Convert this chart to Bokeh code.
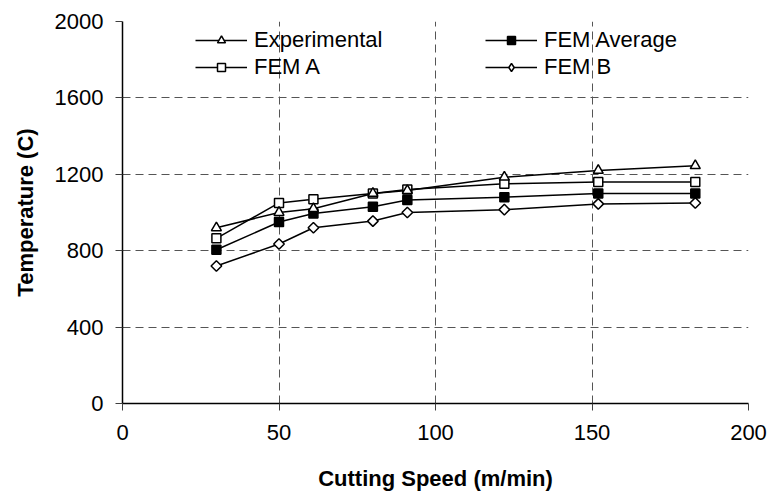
import math
from bokeh.plotting import figure
from bokeh.models import Range1d, FixedTicker, Legend, LegendItem
from bokeh.embed import file_html
from bokeh.resources import INLINE

# ---- data ----
speed = [30, 50, 61, 80, 91, 122, 152, 183]
experimental = [920, 1000, 1020, 1100, 1115, 1185, 1220, 1245]
fem_average = [805, 950, 995, 1030, 1065, 1080, 1100, 1100]
fem_a = [865, 1050, 1070, 1100, 1120, 1150, 1160, 1160]
fem_b = [720, 835, 920, 955, 1000, 1015, 1045, 1050]

x_ticks = [0, 50, 100, 150, 200]
y_ticks = [0, 400, 800, 1200, 1600, 2000]
x_title = "Cutting Speed (m/min)"
y_title = "Temperature (C)"

FONT = "Liberation Sans"

p = figure(width=771, height=494, output_backend="svg", toolbar_location=None,
           x_range=Range1d(0, 200), y_range=Range1d(0, 2000),
           min_border_left=122, min_border_right=23, min_border_top=21,
           min_border_bottom=91)
p.outline_line_color = None
p.background_fill_color = "white"
p.border_fill_color = "white"

for ax, ticks in ((p.xaxis[0], x_ticks), (p.yaxis[0], y_ticks)):
    ax.ticker = FixedTicker(ticks=ticks)
    ax.minor_tick_line_color = None
    ax.major_tick_out = 7
    ax.major_tick_in = 0
    ax.major_tick_line_color = "#404040"
    ax.axis_line_color = "black"
    ax.axis_line_width = 1.5
    ax.major_label_text_font = FONT
    ax.major_label_text_font_size = "22px"
    ax.major_label_text_color = "black"
    ax.axis_label_text_font = FONT
    ax.axis_label_text_font_size = "22px"
    ax.axis_label_text_font_style = "bold"
    ax.axis_label_text_color = "black"

p.xaxis.axis_label = x_title
p.yaxis.axis_label = y_title
p.xaxis.major_label_standoff = 14
p.yaxis.major_label_standoff = 12
p.xaxis.axis_label_standoff = 23
p.yaxis.axis_label_standoff = 14

for g in (p.xgrid[0], p.ygrid[0]):
    g.grid_line_color = "#555555"
    g.grid_line_dash = "8 5"
    g.grid_line_width = 1

LW = 1.5
NAN = float("nan")

def series(y, marker, size, fill, leg_marker, leg_size, angle=0.0):
    lr = p.line(speed, y, line_color="black", line_width=LW)
    p.scatter(speed, y, marker=marker, size=size, fill_color=fill,
              line_color="black", line_width=LW, angle=angle)
    # legend proxy (no visible data) so the key shows the right marker shape
    proxy = p.scatter([NAN], [NAN], marker=leg_marker, size=leg_size,
                      fill_color=fill, line_color="black", line_width=LW)
    return [lr, proxy]

r_b = series(fem_b, "square", 7.5, "white", "diamond", 11, angle=math.pi / 4)
r_avg = series(fem_average, "square", 9, "black", "square", 8)
r_a = series(fem_a, "square", 9, "white", "square", 7)
r_exp = series(experimental, "triangle", 10, "white", "triangle", 8)

def make_legend(items, loc):
    lg = Legend(items=items, location=loc, orientation="vertical")
    lg.label_text_font = FONT
    lg.label_text_font_size = "22px"
    lg.label_text_color = "black"
    lg.background_fill_alpha = 0
    lg.border_line_color = None
    lg.padding = 0
    lg.margin = 0
    lg.glyph_width = 52
    lg.glyph_height = 20
    lg.label_standoff = 7
    lg.spacing = 1
    return lg

leg1 = make_legend([LegendItem(label="Experimental", renderers=r_exp),
                    LegendItem(label="FEM A", renderers=r_a)], (73, 323))
leg2 = make_legend([LegendItem(label="FEM Average", renderers=r_avg),
                    LegendItem(label="FEM B", renderers=r_b)], (363, 323))
p.add_layout(leg1)
p.add_layout(leg2)

open("out.html", "w").write(file_html(p, INLINE))
